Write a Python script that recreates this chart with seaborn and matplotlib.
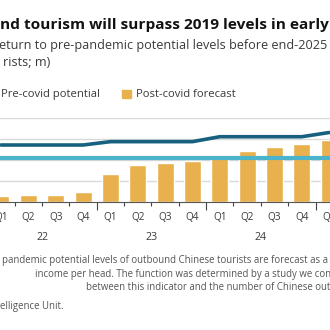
import matplotlib
matplotlib.use("Agg")
import matplotlib.pyplot as plt
import matplotlib.transforms as mtransforms
from matplotlib.patches import Rectangle
import pandas as pd
import seaborn as sns

# Quarterly outbound Chinese tourists, millions
quarters = ["Q1", "Q2", "Q3", "Q4"] * 3 + ["Q1"]
years = ["22"] * 4 + ["23"] * 4 + ["24"] * 4 + ["25"]
post_covid_forecast = [5.2, 6.2, 6.3, 8.8, 26.2, 34.3, 36.5, 38.1,
                       44.0, 48.3, 52.1, 54.5, 58.6]
pre_covid_potential = [53.8, 53.8, 53.8, 53.8, 57.0, 57.0, 57.0, 57.0,
                       61.7, 61.7, 61.7, 61.7, 65.7]
level_2019 = 41.9
year_labels = ["22", "23", "24"]

BAR = "#E9B04E"
DARK = "#17607F"
LIGHT = "#4BB3CA"
GRID = "#D9D9D9"
TXT = "#3A3A3A"
NOTE = "#555555"

sns.set_theme(style="white")
FONT = ["Open Sans", "DejaVu Sans"]
plt.rcParams["font.family"] = FONT

W = H = 330
fig = plt.figure(figsize=(3.3, 3.3), dpi=100)
fig.patch.set_facecolor("white")
renderer = fig.canvas.get_renderer()


def fx(px):
    return px / W


def fy(py):
    return 1 - py / H


def text_width(s, size, weight="normal"):
    t = fig.text(0, 0, s, fontsize=size, fontweight=weight)
    w = t.get_window_extent(renderer).width
    t.remove()
    return w


def fitted_size(s, width_px, weight="normal"):
    """Font size at which string s spans width_px pixels."""
    return 10 * width_px / text_width(s, 10, weight)


def put(x_px, y_px, head, tail, width_px, weight="normal", color=TXT):
    size = fitted_size(head, width_px, weight)
    fig.text(fx(x_px), fy(y_px), head + tail, ha="left", va="center",
             fontsize=size, fontweight=weight, color=color)
    return size


def put_ending(x_end, y_px, head, tail, size, color=NOTE):
    """Place head + tail so that head finishes at x_end pixels."""
    x0 = x_end - text_width(head, size)
    fig.text(fx(x0), fy(y_px), head + tail, ha="left", va="center",
             fontsize=size, color=color)


# plot area: baseline at y=201.5px, top gridline at 117.5px
ax = fig.add_axes([0, fy(201.5), 1, fy(117.5) - fy(201.5)])
ax.set_facecolor("white")

df = pd.DataFrame({
    "label": [f"{q} {y}" for q, y in zip(quarters, years)],
    "forecast": post_covid_forecast,
    "potential": pre_covid_potential,
})

sns.barplot(data=df, x="label", y="forecast", color=BAR, saturation=1,
            width=0.62, ax=ax, zorder=2)
ax.axhline(level_2019, color=LIGHT, lw=3.0, zorder=3)
sns.lineplot(x=range(len(df)), y=df["potential"], color=DARK, lw=2.6,
             ax=ax, zorder=4)

ax.set_xlim(-0.037, 12.03)
ax.set_ylim(0, 80)
ax.set_xlabel("")
ax.set_ylabel("")
for s in ["top", "left", "right"]:
    ax.spines[s].set_visible(False)
ax.spines["bottom"].set_color("#555555")
ax.spines["bottom"].set_linewidth(0.8)
ax.spines["bottom"].set_zorder(5)

ax.set_yticks([20, 40, 60, 80])
ax.yaxis.grid(True, color=GRID, lw=1.0, zorder=0)
ax.tick_params(axis="y", left=False, labelleft=False)

# year boundaries get long ticks, quarter boundaries short ones
n = len(df)
year_bounds = [i + 0.5 for i in range(n - 1) if quarters[i] == "Q4"]
quarter_bounds = [i + 0.5 for i in range(n - 1) if quarters[i] != "Q4"]
ax.set_xticks(year_bounds)
ax.set_xticks(quarter_bounds, minor=True)
ax.set_xticklabels([])
ax.tick_params(axis="x", which="major", length=5.4, width=0.8,
               color="#444444", bottom=True)
ax.tick_params(axis="x", which="minor", length=3.2, width=0.8,
               color="#444444", bottom=True)

q_size = fitted_size("Q2", 13.5)
y_size = fitted_size("22", 12)
blend = mtransforms.blended_transform_factory(ax.transData, fig.transFigure)
for i, q in enumerate(quarters):
    fig.text(i, fy(217), q, transform=blend, ha="center",
             va="center", fontsize=q_size, color=TXT)
for k, yl in enumerate(year_labels):
    fig.text(4 * k + 1.5, fy(238), yl, transform=blend,
             ha="center", va="center", fontsize=y_size, color=TXT)

# headings
put(0, 25, "nd tourism will surpass 2019 levels in early", " 2025", 328,
    weight="bold", color="#121212")
sub = put(-1, 45, "eturn to pre-pandemic potential levels before end-2025", "",
          326)
fig.text(fx(3), fy(63), "rists; m)", ha="left", va="center", fontsize=sub,
         color=TXT)

# legend
leg = put(1, 94, "Pre-covid potential", "", 99)
fig.patches.append(Rectangle((fx(122), fy(98)), fx(8.5), 8.5 / H,
                             transform=fig.transFigure, color=BAR))
fig.text(fx(136), fy(94), "Post-covid forecast", ha="left", va="center",
         fontsize=leg, color=TXT)

# notes and source
note = put(2, 261,
           "pandemic potential levels of outbound Chinese tourists are forecast as a",
           " function of", 326, color=NOTE)
put_ending(331, 274.5,
           "income per head. The function was determined by a study we con",
           "ducted", note)
put_ending(330, 287,
           "between this indicator and the number of Chinese out",
           "bound tourists", note)
fig.text(fx(0), fy(306), "elligence Unit.", ha="left", va="center",
         fontsize=note, color=NOTE)

fig.savefig("out.png", dpi=100, facecolor="white")
